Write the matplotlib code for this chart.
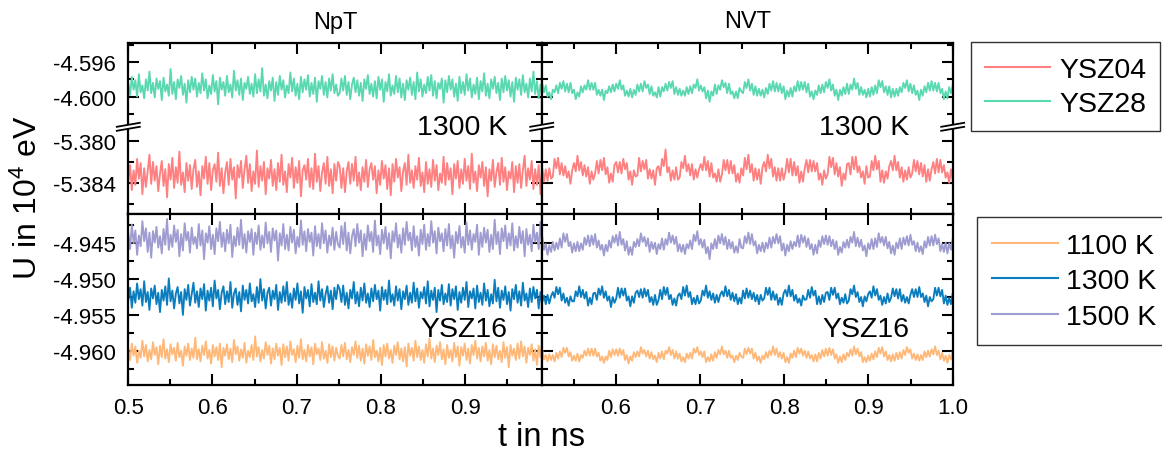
import numpy as np
import matplotlib.pyplot as plt
from matplotlib.lines import Line2D
from matplotlib.patches import Polygon
from matplotlib.ticker import MultipleLocator, FormatStrFormatter

plt.rcParams['font.family'] = ['Liberation Sans', 'DejaVu Sans']
plt.rcParams['mathtext.default'] = 'regular'

# energy levels (10^4 eV) and fluctuations in units of 1e-4
# each trace: first half of the run ("a") and second half ("b")
base_npt_ysz28 = -4.5989
base_npt_ysz04 = -5.3833
base_nvt_ysz28 = -4.5992
base_nvt_ysz04 = -5.3828
base_npt_1500 = -4.9444
base_npt_1300 = -4.9524
base_npt_1100 = -4.9603
base_nvt_1500 = -4.9451
base_nvt_1300 = -4.9524
base_nvt_1100 = -4.9606

npt_ysz28 = [4, -9, 12, -3, 8, -11, 15, -6, 2, -13, 9, -4, 18, -7, 5, -12, 10, -2, 7, -15, 11, -5, 3, -10, 21, -8, 6, -14, 9, -1, 13, -9, 4, -18, 8, -6, 12, -3, 10, -11,
             5, -7, 16, -4, 9, -13, 2, -8, 14, -5, 7, -20, 11, -3, 6, -10, 13, -6, 3, -12, 19, -4, 8, -9, 10, -15, 5, -2, 12, -8, 4, -11, 15, -7, 9, -5, 22, -10, 3, -13,
             7, -4, 11, -16, 6, -9, 13, -3, 8, -12, 2, -7, 17, -5, 10, -10, 4, -14, 12, -6, 9, -3, 14, -11, 5, -8, 11, -17, 7, -2, 13, -9, 6, -12, 10, -4, 15, -7, 3, -10]
npt_ysz28_b = [-7, 10, -4, 13, -9, 6, -14, 3, 11, -6, 8, -10, 5, -16, 9, -2, 14, -8, 4, -11, 7, -13, 12, -3, 9, -17, 6, -5, 15, -10,
               2, -8, 13, -6, 10, -12, 4, -15, 8, -3, 11, -9, 6, -14, 17, -5, 9, -11, 3, -7, 12, -4, 14, -10, 7, -13, 5, -2, 10, -18,
               8, -6, 13, -3, 9, -11, 4, -16, 12, -7, 6, -9, 15, -4, 10, -12, 3, -8, 11, -14, 7, -5, 16, -10, 4, -13, 9, -2, 12, -7,
               5, -15, 10, -6, 13, -4, 8, -11, 6, -17, 11, -3, 9, -9, 14, -6, 4, -12, 10, -5, 18, -8, 7, -13, 3, -10, 12, -4, 8, -14]
npt_ysz04 = [-6, 10, -14, 5, -9, 16, -3, 12, -18, 7, -11, 4, 20, -8, 13, -5, 9, -15, 2, 14, -10, 6, -21, 11, -4, 17, -12, 8, -7, 23, -9, 3, -16, 12, -5, 10, -13, 6, 15, -11,
             4, -19, 9, -3, 18, -8, 12, -14, 5, 11, -6, 22, -10, 7, -17, 3, 13, -9, 16, -4, 8, -22, 10, -2, 14, -12, 6, 19, -7, 11, -15, 4, -8, 24, -11, 9, -5, 13, -18, 7,
             -3, 15, -10, 6, -14, 12, -6, 20, -9, 4, -16, 11, -2, 17, -12, 8, -7, 14, -20, 5, 10, -4, 16, -11, 7, -13, 21, -6, 9, -15, 3, 12, -8, 18, -10, 6, -17, 11, -5, 13]
npt_ysz04_b = [9, -12, 7, -16, 4, 13, -8, 11, -5, 18, -10, 3, -14, 8, -6, 15, -11, 6, 12, -4, 9, -17, 5, -9, 14, -3, 10, -13, 7, -19,
               11, -6, 16, -2, 8, -15, 4, 12, -9, 20, -7, 5, -12, 9, -4, 17, -10, 3, -16, 13, -8, 6, -11, 15, -5, 10, -14, 2, -7, 18,
               -9, 12, -4, 7, -18, 11, -3, 14, -12, 6, -8, 16, -5, 9, -13, 21, -7, 4, -15, 10, -2, 13, -10, 8, -20, 6, -5, 15, -11, 3,
               12, -9, 17, -6, 8, -14, 4, -3, 13, -16, 9, -7, 11, -12, 5, 19, -10, 7, -4, 14, -13, 6, -9, 10, -18, 8, -6, 15, -11, 4]
nvt_ysz28 = [3, -3, 10, 3, 9, -2, 7, -3, 5, -8, -3, -11, 0, -3, 5,
             -4, 8, 1, 10, -2, 7, -3, 8, -4, 0, -11, -3, -8, 4, -3,
             5, 0, 11, 0, 8, 0, 8, -6, 0, -7, 0, -12, -1, -4, 4,
             -3, 6, -2, 7, 1, 11, 0, 5, -7, -1, -8, 1, -9, 0, -6,
             6, -2, 7, -2, 10, 2, 6, -5, 4, -7, -3, -9, 3, -8, 3,
             -2, 7, -1, 9, 2, 10, -5, 3, -6, 1, -7, -1, -7, 3, -5,
             4, -4, 6, 2, 12, -1, 5, -2, 3, -10, -1, -14, -2, -7, 6,
             -5, 5, 0, 11, 3, 8, -4, 7, -5, -2, -10, -2, -10, 2, -2]
nvt_ysz28_b = [-4, 9, 2, 12, -1, 7, -6, 4, -7, 1, -7, 0, -9, 2, -5,
               7, -1, 10, -2, 8, -2, 7, -4, 4, -11, -1, -8, 2, -8, 4,
               -2, 10, -1, 9, 0, 9, -3, 7, -8, -2, -11, -1, -6, 5, -4,
               6, -3, 9, 2, 12, -1, 6, -7, 0, -12, 0, -7, 3, -5, 7,
               -5, 6, 0, 13, 1, 8, -6, 3, -6, 0, -9, 1, -8, 3, -6,
               5, -4, 11, 3, 10, -3, 4, -6, 4, -9, 1, -8, 1, -7, 3,
               -3, 8, 2, 11, -2, 7, -4, 5, -6, -1, -12, 0, -7, 4, -3,
               8, -1, 10, -1, 8, -2, 8, -4, 1, -11, -2, -10, 3, -4, 5]
nvt_ysz04 = [5, -4, 9, 3, 13, -3, 2, -11, 1, -10, 2, -8,
             -6, 11, 2, 12, -4, 7, -5, 4, -7, -1, -13, 0,
             7, -1, 14, 0, 8, -5, 5, -6, 3, -13, -1, -9,
             -3, 9, -3, 10, 0, 12, -4, 3, -12, -3, -11, 5,
             8, -2, 8, -3, 11, 1, 7, -9, -1, -14, 0, -6,
             -5, 12, -1, 9, 1, 10, -8, 1, -8, 0, -14, 2,
             4, -5, 11, 4, 20, -2, 3, -10, 0, -9, 3, -9,
             -7, 8, 2, 14, -1, 6, -5, 6, -9, 1, -7, 1,
             6, 0, 13, 0, 9, -6, 7, -7, -3, -11, 1, -11,
             -4, 10, 0, 10, -3, 9, -3, 5, -11, -3, -12, 2]
nvt_ysz04_b = [-5, 12, 1, 15, -2, 6, -10, 2, -9, 1, -13, 3,
               8, -1, 15, 2, 11, -6, 3, -10, 2, -10, 2, -9,
               -2, 11, -2, 11, -5, 8, -5, 4, -12, -1, -11, 2,
               10, -2, 10, -1, 9, -1, 7, -9, -3, -14, 0, -8,
               -4, 13, 3, 12, -4, 7, -6, 3, -15, -3, -9, 6,
               7, -4, 13, 1, 13, -2, 4, -7, -1, -13, 4, -7,
               -6, 9, 0, 14, 1, 9, -11, 0, -12, -1, -8, 4,
               9, 0, 14, 0, 8, -7, 3, -11, 0, -9, 3, -7,
               -3, 10, -1, 9, -4, 7, -6, 5, -11, 1, -10, 1,
               8, -3, 11, -2, 10, -2, 5, -7, -2, -12, 1, -10]
npt_1500 = [8, -14, 20, -6, 12, -22, 5, -10, 25, -3, 15, -18, 9, -26, 11, -5, 17, -12, 4, -20, 14, -8, 28, -15, 6, -11, 19, -4, 13, -24, 7, -16, 22, -2, 10, -19, 16, -7, 3, -13,
            21, -9, 12, -28, 8, -5, 18, -14, 6, -21, 15, -3, 24, -11, 9, -17, 13, -6, 20, -25, 4, -10, 16, -8, 27, -13, 7, -19, 11, -4, 14, -22, 9, -7, 19, -15, 5, -12, 23, -6,
            10, -18, 15, -2, 12, -30, 8, -9, 21, -14, 6, -16, 17, -5, 13, -20, 3, -11, 26, -8, 11, -17, 14, -4, 9, -23, 18, -10, 7, -13, 22, -6, 12, -19, 5, -9, 16, -15, 10, -7]
npt_1500_b = [-12, 18, -7, 23, -16, 9, -20, 4, 14, -10, 21, -5, 12, -24, 7, -15, 19, -3, 10, -18, 26, -9, 5, -21, 13, -6, 17, -14, 8, -27,
              11, -4, 22, -12, 6, -19, 15, -8, 24, -2, 9, -16, 18, -11, 4, -23, 13, -7, 20, -15, 7, -10, 25, -5, 11, -20, 16, -3, 8, -17,
              14, -9, 21, -13, 5, -26, 10, -6, 18, -12, 3, -19, 23, -8, 12, -15, 7, -4, 20, -22, 9, -11, 16, -5, 13, -18, 6, -14, 27, -7,
              10, -21, 15, -3, 19, -13, 8, -9, 22, -16, 4, -12, 17, -6, 11, -24, 14, -8, 6, -17, 20, -4, 9, -14, 24, -10, 5, -20, 13, -6]
npt_1300 = [-5, 12, -16, 7, -9, 18, -4, 10, -13, 21, -8, 6, -19, 11, -3, 15, -11, 5, -22, 9, -6, 14, -12, 25, -7, 8, -17, 4, 13, -10, 6, -26, 10, -5, 16, -13, 3, 19, -9, 7,
            -15, 11, -4, 17, -20, 8, -6, 12, -14, 22, -3, 9, -18, 5, 14, -11, 7, -8, 20, -16, 4, 11, -12, 6, -21, 15, -5, 9, -10, 18, -7, 3, -15, 13, -9, 24, -6, 10, -17, 5,
            12, -13, 8, -4, 16, -19, 6, -9, 14, -7, 20, -12, 4, -16, 11, -5, 18, -10, 7, -23, 13, -3, 9, -14, 17, -8, 5, -11, 21, -6, 10, -15, 3, 14, -9, 8, -18, 12, -4, 16]
npt_1300_b = [10, -8, 15, -12, 5, -17, 9, -3, 20, -10, 6, -14, 12, -6, 18, -9, 4, -15, 11, -7, 16, -4, 8, -20, 13, -5, 9, -11, 22, -8,
              3, -13, 14, -6, 10, -18, 7, -4, 15, -12, 5, -9, 19, -7, 11, -16, 6, -3, 13, -10, 21, -14, 8, -5, 12, -22, 9, -6, 16, -11,
              4, -8, 17, -13, 10, -4, 14, -19, 6, -9, 12, -5, 20, -15, 7, -3, 11, -17, 15, -8, 5, -12, 18, -6, 9, -14, 3, -10, 23, -7,
              12, -16, 8, -5, 14, -11, 6, -20, 10, -4, 16, -9, 7, -13, 19, -6, 4, -15, 11, -8, 13, -3, 9, -17, 6, -12, 17, -5, 10, -14]
npt_1100 = [6, -10, 13, -4, 9, -14, 3, -7, 17, -5, 11, -12, 4, -9, 15, -3, 8, -16, 10, -6, 19, -8, 5, -13, 12, -2, 7, -11, 14, -6, 3, -18, 9, -4, 13, -10, 6, -7, 21, -9,
            5, -12, 10, -3, 16, -8, 4, -15, 11, -5, 8, -10, 13, -20, 7, -4, 12, -9, 6, -13, 18, -2, 9, -11, 5, -7, 14, -14, 3, -6, 11, -10, 23, -5, 8, -12, 4, -8, 15, -3,
            10, -15, 6, -9, 13, -4, 7, -17, 12, -6, 9, -11, 16, -3, 5, -13, 10, -7, 19, -9, 4, -12, 11, -5, 8, -16, 13, -2, 6, -10, 15, -8, 3, -14, 12, -6, 9, -11, 7, -4]
npt_1100_b = [-8, 11, -5, 14, -9, 4, -13, 8, -3, 16, -7, 10, -11, 6, -15, 12, -4, 9, -10, 18, -6, 3, -12, 7, -17, 11, -5, 13, -8, 4,
              -14, 10, -3, 15, -9, 6, -12, 8, -19, 13, -4, 7, -11, 17, -6, 9, -10, 4, -14, 12, -5, 20, -8, 6, -13, 10, -3, 15, -9, 5,
              -16, 11, -7, 4, -12, 14, -6, 9, -18, 8, -4, 13, -10, 6, -15, 11, -3, 17, -8, 7,
              -12, 9, -5, 14, -11, 4, -16, 12, -6, 10, -9, 3, -13, 15, -7, 8, -20, 11, -4, 6, -10, 13, -8, 16, -5, 9, -14, 7, -3, 12,
              -11, 5, -17, 10, -6, 14, -9, 4, -12, 8]
nvt_1500 = [6, -6, 9, 2, 17, 2, 10, -8, 0, -15, -2, -11, 3, -9, 2,
            -7, 8, -5, 15, 3, 14, -3, 3, -12, 1, -10, 3, -10, 1, -8,
            9, -1, 12, -3, 12, -1, 14, -5, 5, -8, -1, -16, -1, -10, 5,
            -5, 11, 2, 13, -2, 17, -1, 7, -9, 4, -15, -4, -15, 3, -4,
            7, -3, 15, 3, 10, -3, 8, -11, 3, -7, 2, -14, 0, -7, 8,
            -8, 7, -1, 16, 2, 12, 0, 10, -10, 0, -11, -1, -14, 0, -6,
            5, -7, 13, 4, 18, -1, 7, -5, 6, -13, -4, -21, 1, -7, 7,
            -6, 12, 1, 14, -1, 10, -7, 6, -6, 3, -12, -3, -12, 7, -5]
nvt_1500_b = [-6, 11, 1, 16, 0, 14, -2, 4, -13, -1, -10, 2, -11, 2, -6,
              9, -5, 10, 1, 14, 1, 11, -9, 1, -16, -1, -10, 4, -7, 3,
              -3, 12, -4, 13, 2, 11, -4, 8, -7, 0, -15, -1, -13, 5, -4,
              11, 0, 12, -1, 11, -3, 6, -7, 4, -15, -4, -12, 3, -5, 6,
              -5, 10, 2, 17, -3, 9, -4, 6, -9, -2, -17, 1, -7, 7, -7,
              8, -4, 15, 2, 10, -2, 10, -6, 3, -13, -2, -15, 2, -6, 8,
              -7, 9, -1, 11, -2, 13, -1, 4, -10, 2, -11, -3, -14, 4, -5,
              10, -2, 11, -2, 13, 0, 8, -10, 0, -11, 2, -13, 1, -8, 7]
nvt_1300 = [-4, 10, -1, 15, 2, 8, -8, 1, -11, 2, -10, 0,
            6, -2, 13, 3, 12, -6, 4, -9, -2, -13, 0, -7,
            -7, 7, 0, 14, -1, 9, -3, 6, -13, -2, -11, 4,
            5, -5, 11, 2, 14, -2, 7, -6, 0, -15, -1, -9,
            -3, 12, -2, 11, 1, 11, -6, 0, -14, 0, -9, 5,
            8, -1, 10, -2, 11, 0, 9, -8, -1, -12, 2, -12,
            -5, 9, -4, 13, 2, 12, -4, 2, -12, -3, -13, 1,
            4, -4, 13, 1, 15, -1, 6, -11, -2, -11, 1, -10,
            -6, 8, 1, 15, -2, 7, -5, 4, -9, 2, -8, 2,
            7, 0, 14, 0, 9, -5, 5, -7, 3, -11, -2, -10]
nvt_1300_b = [8, -3, 11, -2, 8, -4, 5, -7, 2, -11, 2, -6,
              -3, 12, 2, 12, -5, 7, -5, 3, -12, -2, -12, 4,
              9, 0, 15, 0, 9, -6, 2, -9, -3, -13, 1, -5,
              -4, 9, -2, 13, 1, 8, -11, 0, -11, 2, -8, 5,
              6, -5, 12, 2, 12, -3, 4, -11, -2, -9, 3, -10,
              -6, 10, 3, 15, -1, 6, -8, -1, -14, 0, -7, 3,
              7, -2, 14, 1, 10, -5, 1, -12, -1, -10, 4, -8,
              -2, 11, 0, 10, -3, 10, -7, 2, -9, -1, -10, 2,
              10, -1, 10, -1, 13, -1, 4, -8, 1, -14, -1, -7,
              -4, 12, 1, 12, 0, 9, -10, 1, -12, -2, -11, 4]
nvt_1100 = [4, -4, 7, 1, 12, 1, 7, -6, 0, -9, 1, -7, 0, -9, 3,
            -5, 5, -3, 10, 3, 10, -2, 4, -8, -1, -8, 2, -9, 0, -4,
            6, -1, 9, -1, 9, -1, 9, -2, 3, -8, -2, -11, -2, -7, 6,
            -3, 8, 0, 8, -1, 9, 0, 7, -7, 0, -12, -2, -8, 4, -3,
            5, -2, 11, 2, 7, -2, 6, -5, 4, -6, -1, -10, 3, -5, 5,
            -6, 6, 2, 11, 0, 7, -5, 5, -5, 2, -9, -3, -10, 2, -5,
            3, -5, 9, 3, 11, 0, 5, -3, 5, -10, -3, -9, 1, -8, 4,
            -4, 7, 1, 12, 1, 6, -4, 6, -4, -1, -10, -1, -7, 3, -2]
nvt_1100_b = [-4, 9, 1, 10, 2, 9, -5, 3, -8, -2, -11, -1, -6, 4, -4,
              6, 0, 12, 0, 9, -3, 4, -5, 3, -10, -3, -11, 2, -4, 6,
              -3, 10, 2, 9, -1, 6, -4, 5, -5, 0, -9, 1, -9, 3, -5,
              7, -2, 9, -1, 10, 0, 8, -5, 1, -11, -2, -10, 1, -7, 3,
              -2, 8, -1, 12, 1, 9, -2, 4, -10, -3, -10, -1, -8, 2, -6,
              5, -3, 10, 2, 11, -2, 5, -7, 0, -9, 1, -8, 3, -6, 4,
              -5, 7, 0, 11, 3, 8, -5, 2, -7, 1, -8, 0, -7, 5, -3,
              6, -2, 8, 1, 12, 0, 6, -6, 3, -8, -1, -11, 0, -6, 5]

c_ysz04 = '#ff8080'
c_ysz28 = '#5ad8b2'
c_1100 = '#ffb878'
c_1300 = '#0a7dbf'
c_1500 = '#9e9cd0'

W, H = 1162, 452
fig = plt.figure(figsize=(W / 100, H / 100), dpi=100)


def add_ax(x0, y0, x1, y1):
    return fig.add_axes([x0 / W, 1 - y1 / H, (x1 - x0) / W, (y1 - y0) / H])


def series(base, a, b):
    offs = np.array(a + b, dtype=float)
    t = np.linspace(0.5, 1.0, len(offs))
    return t, base + offs * 1e-4


def style(ax, xlim, ylim, ymaj, left_labels, top, bottom, xlabels):
    ax.set_xlim(xlim)
    ax.set_ylim(ylim)
    ax.xaxis.set_major_locator(MultipleLocator(0.1))
    ax.xaxis.set_minor_locator(MultipleLocator(0.05))
    ax.yaxis.set_major_locator(MultipleLocator(ymaj))
    ax.yaxis.set_minor_locator(MultipleLocator(ymaj / 2))
    ax.xaxis.set_major_formatter(FormatStrFormatter('%.1f'))
    ax.yaxis.set_major_formatter(FormatStrFormatter('%.3f'))
    ax.tick_params(which='both', direction='in', left=True, right=True,
                   top=top, bottom=bottom, width=1.5, labelleft=left_labels,
                   labelbottom=xlabels, labeltop=False)
    ax.tick_params(which='major', length=8)
    ax.tick_params(which='minor', length=4.5)
    ax.tick_params(axis='x', labelsize=16, pad=9)
    ax.tick_params(axis='y', labelsize=16, pad=9)
    for s in ax.spines.values():
        s.set_linewidth(1.6)


cols = [
    (128.3, 541.7, (0.5, 0.991), 'NpT',
     [(npt_ysz04, npt_ysz04_b), (npt_ysz28, npt_ysz28_b), (npt_1100, npt_1100_b),
      (npt_1300, npt_1300_b), (npt_1500, npt_1500_b)],
     (base_npt_ysz04, base_npt_ysz28, base_npt_1100, base_npt_1300, base_npt_1500)),
    (541.7, 952.7, (0.5119, 1.0), 'NVT',
     [(nvt_ysz04, nvt_ysz04_b), (nvt_ysz28, nvt_ysz28_b), (nvt_1100, nvt_1100_b),
      (nvt_1300, nvt_1300_b), (nvt_1500, nvt_1500_b)],
     (base_nvt_ysz04, base_nvt_ysz28, base_nvt_1100, base_nvt_1300, base_nvt_1500)),
]

y_top, y_brk, y_mid, y_bot = 44, 129.5, 215, 386
lw = 1.35

for i, (x0, x1, xlim, title, data, bases) in enumerate(cols):
    first = i == 0
    ax_u = add_ax(x0, y_top, x1, y_brk)
    ax_l = add_ax(x0, y_brk, x1, y_mid)
    ax_b = add_ax(x0, y_mid, x1, y_bot)

    ax_u.plot(*series(bases[1], *data[1]), color=c_ysz28, lw=lw)
    ax_l.plot(*series(bases[0], *data[0]), color=c_ysz04, lw=lw)
    ax_b.plot(*series(bases[2], *data[2]), color=c_1100, lw=lw)
    ax_b.plot(*series(bases[3], *data[3]), color=c_1300, lw=lw)
    ax_b.plot(*series(bases[4], *data[4]), color=c_1500, lw=lw)

    style(ax_u, xlim, (-4.6037, -4.59378), 0.004, first, True, False, False)
    style(ax_l, xlim, (-5.3870, -5.37878), 0.004, first, False, True, False)
    style(ax_b, xlim, (-4.96479, -4.9409), 0.005, first, True, True, True)
    ax_u.spines['bottom'].set_visible(False)
    ax_l.spines['top'].set_visible(False)

    xc = (x0 + x1) / 2
    fig.text(xc / W, 1 - 28.5 / H, title, ha='center', va='baseline', fontsize=17)
    fig.text((x1 - 34 - 9 * i) / W, 1 - 135 / H, '1300 K', ha='right', va='baseline', fontsize=20.5)
    fig.text((x1 - 34 - 9 * i) / W, 1 - 337 / H, 'YSZ16', ha='right', va='baseline', fontsize=20.5)


# axis break marks
def draw_break(xc, yc):
    def f(x, y):
        return x / W, 1 - y / H
    pts = [f(xc - 11.5, yc + 0.3), f(xc + 11.5, yc - 3.7), f(xc + 11.5, yc + 0.3), f(xc - 11.5, yc + 4.3)]
    fig.add_artist(Polygon(pts, closed=True, facecolor='white', edgecolor='none',
                           transform=fig.transFigure, zorder=5))
    for dy in (0.3, 4.3):
        (xa, ya), (xb, yb) = f(xc - 11.5, yc + dy), f(xc + 11.5, yc + dy - 4)
        fig.add_artist(Line2D([xa, xb], [ya, yb], color='black', lw=1.3,
                              transform=fig.transFigure, zorder=6))


for xb in (128.3, 541.7, 952.7):
    draw_break(xb, y_brk - 2)

fig.text(541 / W, 1 - 446 / H, 't in ns', ha='center', va='baseline', fontsize=23.5)
fig.text(28 / W, 1 - 198 / H, 'U in 10$^4$ eV', ha='center', va='center', rotation=90, fontsize=23)

h_top = [Line2D([], [], color=c_ysz04, lw=1.5), Line2D([], [], color=c_ysz28, lw=1.5)]
leg1 = fig.legend(h_top, ['YSZ04', 'YSZ28'], loc='upper left',
                  bbox_to_anchor=(970.7 / W, 1 - 43.3 / H), borderaxespad=0,
                  fontsize=20.5, frameon=True, fancybox=False, edgecolor='black',
                  handlelength=2.3, handletextpad=0.3, labelspacing=0.3, borderpad=0.5)
leg1.get_frame().set_linewidth(1.0)

h_bot = [Line2D([], [], color=c_1100, lw=1.5), Line2D([], [], color=c_1300, lw=1.5),
         Line2D([], [], color=c_1500, lw=1.5)]
leg2 = fig.legend(h_bot, ['1100 K', '1300 K', '1500 K'], loc='upper left',
                  bbox_to_anchor=(976.7 / W, 1 - 218.3 / H), borderaxespad=0,
                  fontsize=20.5, frameon=True, fancybox=False, edgecolor='black',
                  handlelength=2.3, handletextpad=0.3, labelspacing=0.33, borderpad=0.55)
leg2.get_frame().set_linewidth(1.0)

fig.savefig('out.png', dpi=100)
